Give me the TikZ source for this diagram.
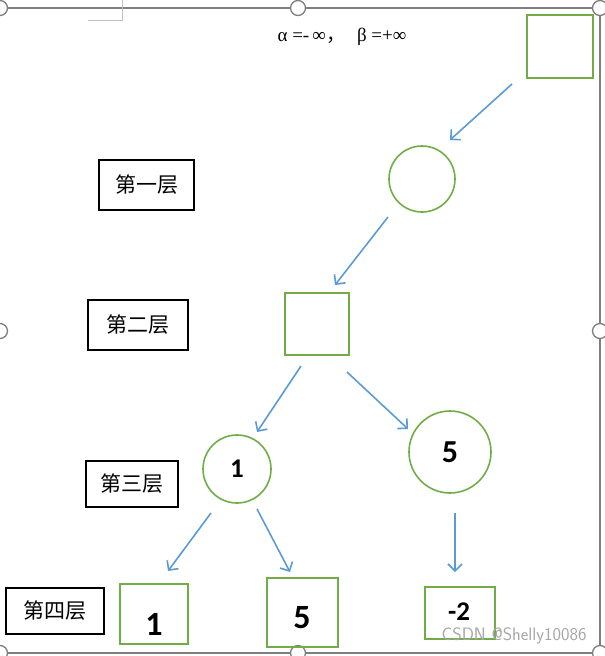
\documentclass[tikz,border=0pt]{standalone}
\usepackage{fontspec}
\setmainfont{Liberation Serif}
\newfontfamily\cjk{Noto Sans CJK SC}
\newfontfamily\numfont{Carlito}
\usetikzlibrary{arrows.meta}
\definecolor{ogreen}{HTML}{70AD47}
\definecolor{oblue}{HTML}{5B9BD5}
\definecolor{fgray}{HTML}{7F7F7F}
\tikzset{
  sq/.style={draw=ogreen,line width=1.8pt,minimum width=#1,inner sep=0pt},
  cir/.style={draw=ogreen,line width=1.6pt,circle,minimum size=#1,inner sep=0pt},
  lvl/.style={draw=black,line width=1.8pt,inner sep=0pt,font=\cjk\fontsize{21}{21}\selectfont},
  arr/.style={draw=oblue,line width=1.6pt,-{Straight Barb[length=7pt,width=14pt]}},
  handle/.style={circle,draw=fgray,fill=white,line width=1.3pt,minimum size=15pt,inner sep=0pt},
  num/.style={font=\numfont\bfseries\fontsize{#1}{#1}\selectfont}
}
\begin{document}
\begin{tikzpicture}[x=1pt,y=-1pt]
\useasboundingbox (0,0) rectangle (605,656);
% frame
\draw[fgray,line width=1.2pt] (0,8) -- (600,8) -- (600,653) -- (0,653);
\draw[black!25,line width=0.8pt] (88,20) -- (122,20) -- (122,0);
\foreach \p/\n in {{(0,8)}/h1,{(298,8)}/h2,{(600,8)}/h3,{(0,331)}/h4,{(600,331)}/h5,{(0,653)}/h6,{(298,653)}/h7,{(600,653)}/h8}
  \node[handle] (\n) at \p {};
% title
\node (ab) at (342,37) {\fontsize{19}{19}\selectfont α =-\,∞{\cjk ，}\hspace{12pt}β =+∞};
% nodes
\node[sq=66pt,minimum height=63pt] (r) at (560,46.5) {};
\node[cir=66pt] (c1) at (422,179) {};
\node[sq=64pt,minimum height=62pt] (s2) at (317,324) {};
\node[cir=68pt,num=27] (c3a) at (237,469) {1};
\node[cir=82pt,num=32] (c3b) at (450,452) {5};
\node[sq=68pt,minimum height=60pt] (l1) at (154,614) {};
\node[num=34] at (154,624) {1};
\node[sq=71pt,minimum height=69pt] (l2) at (302.5,612.5) {};
\node[num=34] at (302,618) {5};
\node[sq=70pt,minimum height=52pt] (l3) at (460,613) {};
\node[num=27] at (459,612) {-2};
% level labels
\node[lvl,minimum width=95pt,minimum height=50pt] (t1) at (146.5,185) {第一层};
\node[lvl,minimum width=100pt,minimum height=50pt] (t2) at (138,325) {第二层};
\node[lvl,minimum width=92pt,minimum height=46pt] (t3) at (132,484) {第三层};
\node[lvl,minimum width=98pt,minimum height=46pt] (t4) at (55,611) {第四层};
% arrows
\coordinate (a1s) at (512,84);  \coordinate (a1e) at (450,140);
\coordinate (a2s) at (388,217); \coordinate (a2e) at (335,285);
\coordinate (a3s) at (301,366); \coordinate (a3e) at (257,432);
\coordinate (a4s) at (347,372); \coordinate (a4e) at (408,429);
\coordinate (a5s) at (211,513); \coordinate (a5e) at (168,571);
\coordinate (a6s) at (257,509); \coordinate (a6e) at (290,572);
\coordinate (a7s) at (455,513); \coordinate (a7e) at (455,572);
\foreach \i in {1,...,7} \draw[arr] (a\i s) -- (a\i e);
% watermark
\node[text=black!35,anchor=west,font=\fontsize{18}{18}\selectfont\sffamily] (wm) at (438,636) {CSDN @Shelly10086};
\end{tikzpicture}
\end{document}
